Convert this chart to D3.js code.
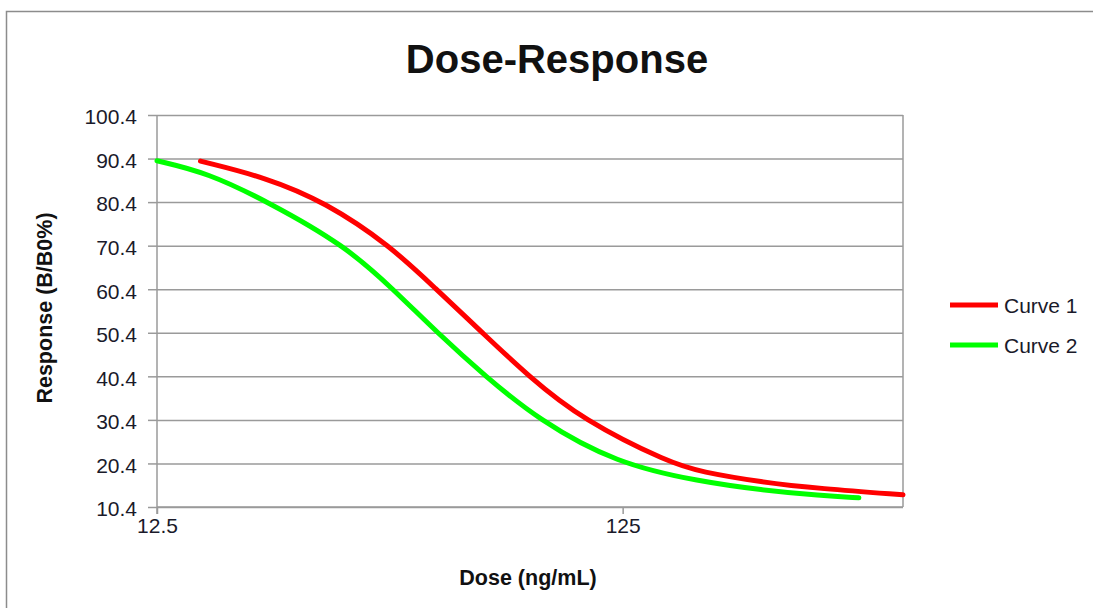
<!DOCTYPE html>
<html>
<head>
<meta charset="utf-8">
<script src="https://cdn.jsdelivr.net/npm/d3@7"></script>
<style>
  html, body { margin: 0; padding: 0; background: #fff; }
  svg { display: block; }
  text { font-family: "Liberation Sans", Arial, sans-serif; fill: #111; }
</style>
</head>
<body>
<svg id="chart" width="1093" height="608"></svg>
<script>
// Dose (ng/mL) and response (B/B0 %) for each curve
const curve1Dose = [15.5, 21.5, 28.7, 39.6, 49.5, 62.5, 78.5, 102.5, 158.6, 184, 247.6, 333, 500];
const curve1Resp = [89.8, 86.0, 80.4, 70.4, 60.6, 50.4, 40.4, 30.4, 20.4, 18.5, 16.1, 14.6, 13.2];
const curve2Dose = [12.5, 16.0, 21.7, 31.7, 40.2, 50.0, 63.4, 82.5, 121, 184, 247.6, 333, 402];
const curve2Resp = [89.9, 87.2, 80.4, 70.4, 60.4, 50.4, 40.4, 30.4, 20.4, 16.2, 14.3, 13.0, 12.5];

const seriesNames = ["Curve 1", "Curve 2"];
const seriesColors = ["#ff0000", "#00ff00"];

const yTicks = [10.4, 20.4, 30.4, 40.4, 50.4, 60.4, 70.4, 80.4, 90.4, 100.4];
const xTicks = [12.5, 125];

const svg = d3.select("#chart");
const plot = { left: 157, right: 903, top: 115, bottom: 507 };

const x = d3.scaleLog().domain([12.5, 500]).range([plot.left, plot.right]);
const y = d3.scaleLinear().domain([10.4, 100.4]).range([plot.bottom, plot.top]);

// outer chart frame
svg.append("rect")
  .attr("x", 6.5).attr("y", 11.5)
  .attr("width", 1200).attr("height", 700)
  .attr("fill", "#fff").attr("stroke", "#8c8c8c").attr("stroke-width", 1.5);

// title
svg.append("text")
  .attr("x", 557).attr("y", 73)
  .attr("text-anchor", "middle")
  .style("font-size", "40px").style("font-weight", "bold")
  .text("Dose-Response");

// horizontal gridlines + y axis
const yAxis = d3.axisLeft(y)
  .tickValues(yTicks)
  .tickSize(plot.right - plot.left)
  .tickFormat(d3.format(".1f"));
const gy = svg.append("g")
  .attr("transform", `translate(${plot.right},0)`)
  .call(yAxis);
gy.select(".domain").remove();
gy.selectAll(".tick line").attr("stroke", "#9a9a9a").attr("stroke-width", 1.5);
gy.selectAll(".tick text")
  .attr("x", -(plot.right - plot.left) - 20)
  .attr("dy", "0.42em")
  .style("font-size", "21px").style("fill", "#1a1a2a").attr("font-family", null);
// short tick marks outside the plot on the left
gy.selectAll(".tick").append("line")
  .attr("x1", -(plot.right - plot.left) - 9).attr("x2", -(plot.right - plot.left))
  .attr("stroke", "#9a9a9a").attr("stroke-width", 1.5);

// plot frame: right edge
svg.append("line")
  .attr("x1", plot.right).attr("x2", plot.right)
  .attr("y1", plot.top).attr("y2", plot.bottom)
  .attr("stroke", "#9a9a9a").attr("stroke-width", 1.5);

// y axis line
svg.append("line")
  .attr("x1", plot.left).attr("x2", plot.left)
  .attr("y1", plot.top).attr("y2", plot.bottom + 7)
  .attr("stroke", "#9a9a9a").attr("stroke-width", 1.5);

// x axis
const xAxis = d3.axisBottom(x)
  .tickValues(xTicks)
  .tickSize(7)
  .tickFormat(d3.format("~g"));
const gx = svg.append("g")
  .attr("transform", `translate(0,${plot.bottom})`)
  .call(xAxis);
gx.select(".domain")
  .attr("d", `M${plot.left},0H${plot.right}`)
  .attr("stroke", "#9a9a9a").attr("stroke-width", 1.5);
gx.selectAll(".tick line").attr("stroke", "#9a9a9a").attr("stroke-width", 1.5);
gx.selectAll(".tick text")
  .attr("y", 11)
  .style("font-size", "21px").style("fill", "#1a1a2a").attr("font-family", null);

// axis titles
svg.append("text")
  .attr("x", 528).attr("y", 585)
  .attr("text-anchor", "middle")
  .style("font-size", "21.5px").style("font-weight", "bold")
  .text("Dose (ng/mL)");

svg.append("text")
  .attr("transform", "translate(52,308) rotate(-90)")
  .attr("text-anchor", "middle")
  .style("font-size", "21.5px").style("font-weight", "bold")
  .text("Response (B/B0%)");

// curves (smoothed B-spline through the points)
const series = [
  { dose: curve1Dose, resp: curve1Resp },
  { dose: curve2Dose, resp: curve2Resp }
];
const line = d3.line()
  .x(d => x(d[0]))
  .y(d => y(d[1]))
  .curve(d3.curveBasis);

series.forEach((s, i) => {
  const pts = s.dose.map((d, j) => [d, s.resp[j]]);
  svg.append("path")
    .attr("d", line(pts))
    .attr("fill", "none")
    .attr("stroke", seriesColors[i])
    .attr("stroke-width", 5)
    .attr("stroke-linecap", "round")
    .attr("stroke-linejoin", "round");
});

// legend
const legend = svg.append("g");
seriesNames.forEach((name, i) => {
  const ly = 305 + i * 40;
  legend.append("line")
    .attr("x1", 950).attr("x2", 998)
    .attr("y1", ly).attr("y2", ly)
    .attr("stroke", seriesColors[i]).attr("stroke-width", 5);
  legend.append("text")
    .attr("x", 1004).attr("y", ly + 7.5)
    .style("font-size", "21px").style("fill", "#1a1a2a")
    .text(name);
});
</script>
</body>
</html>
